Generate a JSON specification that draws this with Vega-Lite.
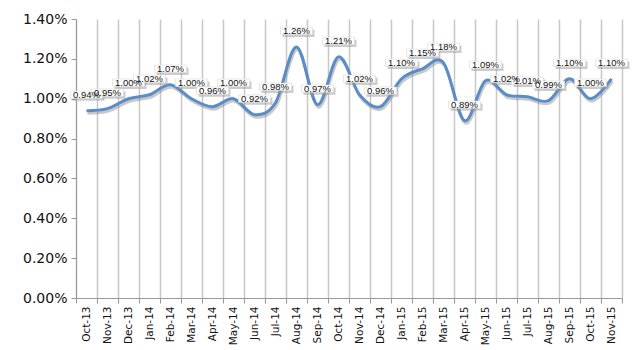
{
  "$schema": "https://vega.github.io/schema/vega-lite/v6.json",
  "autosize": "none",
  "width": 546,
  "height": 279,
  "padding": {"left": 76, "top": 19, "right": 15, "bottom": 52},
  "background": "white",
  "config": {"view": {"stroke": null}},
  "data": {"values": [
    {"month": "Oct-13", "rate": 0.0094},
    {"month": "Nov-13", "rate": 0.0095},
    {"month": "Dec-13", "rate": 0.0100},
    {"month": "Jan-14", "rate": 0.0102},
    {"month": "Feb-14", "rate": 0.0107},
    {"month": "Mar-14", "rate": 0.0100},
    {"month": "Apr-14", "rate": 0.0096},
    {"month": "May-14", "rate": 0.0100},
    {"month": "Jun-14", "rate": 0.0092},
    {"month": "Jul-14", "rate": 0.0098},
    {"month": "Aug-14", "rate": 0.0126},
    {"month": "Sep-14", "rate": 0.0097},
    {"month": "Oct-14", "rate": 0.0121},
    {"month": "Nov-14", "rate": 0.0102},
    {"month": "Dec-14", "rate": 0.0096},
    {"month": "Jan-15", "rate": 0.0110},
    {"month": "Feb-15", "rate": 0.0115},
    {"month": "Mar-15", "rate": 0.0118},
    {"month": "Apr-15", "rate": 0.0089},
    {"month": "May-15", "rate": 0.0109},
    {"month": "Jun-15", "rate": 0.0102},
    {"month": "Jul-15", "rate": 0.0101},
    {"month": "Aug-15", "rate": 0.0099},
    {"month": "Sep-15", "rate": 0.0110},
    {"month": "Oct-15", "rate": 0.0100},
    {"month": "Nov-15", "rate": 0.0110}
  ]},
  "encoding": {
    "x": {
      "field": "month", "type": "ordinal", "sort": null,
      "scale": {"paddingInner": 0, "paddingOuter": 0},
      "axis": {
        "title": null, "tickBand": "extent", "grid": true,
        "gridColor": "#c8c8c8", "gridWidth": 1.5,
        "domainColor": "#999999", "tickColor": "#999999", "tickSize": 5,
        "labelAngle": -90, "labelAlign": "right", "labelBaseline": "middle",
        "labelFont": "DejaVu Sans", "labelFontSize": 10.5, "labelColor": "#111111",
        "labelPadding": 3
      }
    },
    "y": {
      "field": "rate", "type": "quantitative",
      "scale": {"domain": [0, 0.014], "nice": false},
      "axis": {
        "title": null, "format": ".2%", "grid": false,
        "values": [0, 0.002, 0.004, 0.006, 0.008, 0.01, 0.012, 0.014],
        "domainColor": "#999999", "tickColor": "#999999", "tickSize": 5,
        "labelFont": "DejaVu Sans", "labelFontSize": 14, "labelColor": "#111111",
        "labelPadding": 4
      }
    }
  },
  "layer": [
    {"mark": {"type": "line", "interpolate": "cardinal", "color": "#888888", "opacity": 0.45, "strokeWidth": 3, "xOffset": 1, "yOffset": 2.5}},
    {"mark": {"type": "line", "interpolate": "cardinal", "color": "#5a8cc8", "strokeWidth": 3}},
    {"mark": {"type": "point", "shape": "M-1,-0.23H1V0.23H-1Z", "size": 1024, "filled": true, "color": "#999999", "opacity": 0.5, "xOffset": 2, "yOffset": -13.5}},
    {"mark": {"type": "point", "shape": "M-1,-0.23H1V0.23H-1Z", "size": 1024, "filled": true, "fill": "white", "stroke": "#d8d8d8", "strokeWidth": 0.6, "opacity": 1, "yOffset": -16}},
    {"mark": {"type": "text", "font": "Liberation Sans", "fontSize": 9.5, "color": "#111111", "baseline": "middle", "align": "center", "yOffset": -16},
     "encoding": {"text": {"field": "rate", "type": "quantitative", "format": ".2%"}}}
  ]
}
